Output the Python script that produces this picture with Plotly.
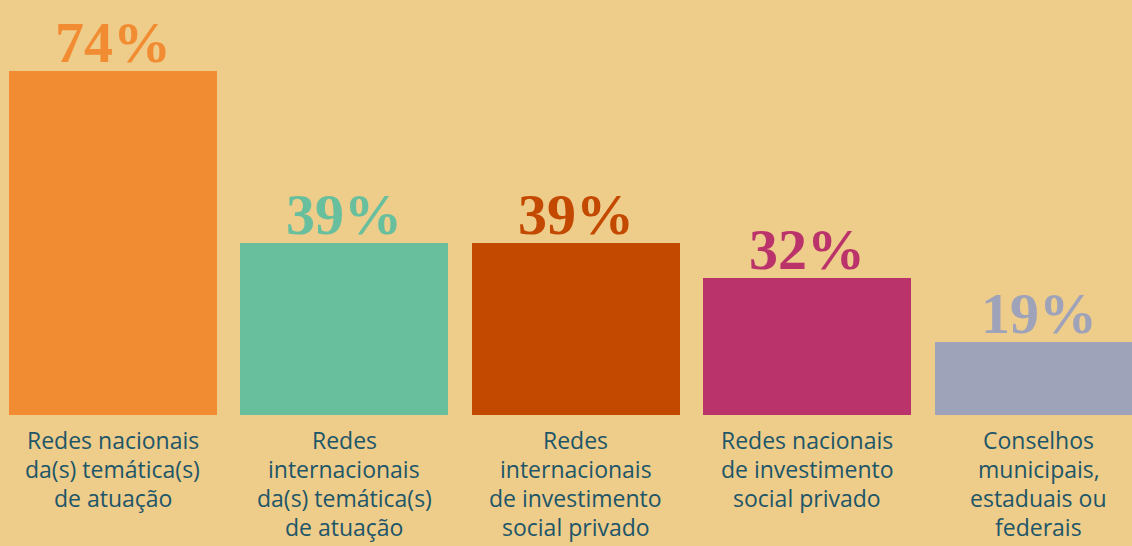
import plotly.graph_objects as go

categories = [
    "Redes nacionais<br>da(s) temática(s)<br>de atuação",
    "Redes<br>internacionais<br>da(s) temática(s)<br>de atuação",
    "Redes<br>internacionais<br>de investimento<br>social privado",
    "Redes nacionais<br>de investimento<br>social privado",
    "Conselhos<br>municipais,<br>estaduais ou<br>federais",
]
values = [74, 39, 39, 32, 19]
labels = ["74%", "39%", "39%", "32%", "19%"]
colors = ["#F28C33", "#68BF9D", "#C34800", "#BB336B", "#9FA3B9"]

BG = "#EECC8A"
TXT = "#1D5668"
x = list(range(len(values)))

fig = go.Figure()
fig.add_trace(go.Bar(
    x=x, y=values, width=0.8985,
    marker=dict(color=colors, line=dict(width=0)),
    hoverinfo="skip",
))

for i, (v, t, c) in enumerate(zip(values, labels, colors)):
    fig.add_annotation(
        x=i, y=v, text=t, showarrow=False, yanchor="bottom", yshift=-6,
        font=dict(family="Liberation Serif", size=58, color=c, weight="bold"),
    )

# category labels, one annotation per line for precise line spacing
for i, cat in enumerate(categories):
    for k, line in enumerate(cat.split("<br>")):
        fig.add_annotation(
            x=i, xref="x", y=0, yref="paper", yanchor="top",
            yshift=-(7 + 29 * k), text=line, showarrow=False,
            font=dict(family="Open Sans", size=23, color=TXT),
        )

fig.update_layout(
    width=1132, height=546,
    margin=dict(l=0, r=0, t=0, b=131),
    paper_bgcolor=BG, plot_bgcolor=BG,
    showlegend=False,
    bargap=0,
    xaxis=dict(
        range=[-0.488, 4.402],
        showticklabels=False,
        showgrid=False, zeroline=False, showline=False, ticks="",
    ),
    yaxis=dict(range=[4.12, 88.4], visible=False),
)

fig.write_html(
    "out.html",
    config={"displayModeBar": False},
    post_script="document.body.style.margin='0';document.body.style.background='" + BG + "';",
)
